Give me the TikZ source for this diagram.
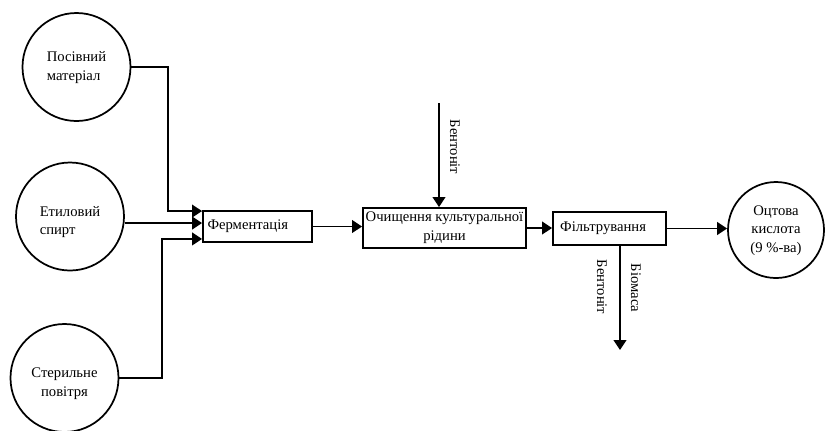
\documentclass[tikz,border=0pt]{standalone}
\usepackage{fontspec}
\setmainfont{Liberation Serif}
\usetikzlibrary{arrows.meta}

\begin{document}
\begin{tikzpicture}[
  x=0.75pt, y=-0.75pt,
  font=\fontsize{11}{14}\selectfont,
  src/.style={circle,draw,line width=1.3pt,minimum size=81pt,inner sep=0pt},
  stage/.style={draw,line width=1.4pt,inner sep=3pt,align=left},
  flow/.style={line width=1.4pt,-{Triangle[length=7.5pt,width=9.5pt]}},
  side/.style={rotate=-90},
]
  \useasboundingbox (0,0) rectangle (834,430);

  % raw materials
  \node[src] (seed) at (76.5,67) {\begin{tabular}{@{}l@{}}Посівний\\матеріал\end{tabular}};
  \node[src] (spirit) at (70,216.5) {\raisebox{-6.6pt}[0pt][0pt]{\begin{tabular}{@{}l@{}}Етиловий\\спирт\end{tabular}}};
  \node[src] (air) at (64.5,378) {\raisebox{-6.6pt}[0pt][0pt]{\begin{tabular}{@{}c@{}}Стерильне\\повітря\end{tabular}}};

  % process stages
  \node[stage,minimum width=81.75pt,minimum height=23.25pt,text width=75pt] (ferm) at (257.5,226.5) {Ферментація};
  \node[stage,minimum width=122.25pt,minimum height=30pt,align=center,inner sep=1pt] (clean) at (444.5,228)
    {Очищення культуральної\\рідини};
  \node[stage,minimum width=84.75pt,minimum height=24.75pt,text width=74pt] (filt) at (609.5,228.5) {Фільтрування};

  % product
  \node[src,minimum size=72pt] (acid) at (776,230) {\begin{tabular}{@{}c@{}}Оцтова\\кислота\\(9 \%-ва)\end{tabular}};

  % inputs to fermentation
  \coordinate (in1) at ([yshift=-0.75pt]ferm.north west);
  \coordinate (in2) at ([yshift=2.6pt]ferm.west);
  \coordinate (in3) at ([yshift=3pt]ferm.south west);
  \draw[flow] (seed.east) -- ++(37,0) |- (in1);
  \draw[flow] (spirit.east |- in2) -- (in2);
  \draw[flow] (air.east) -- ++(43,0) |- (in3);

  % main line
  \draw[flow] (ferm.east) -- (ferm.east -| clean.west);
  \draw[flow] (clean.east) -- (clean.east -| filt.west);
  \draw[flow] (filt.east) -- (filt.east -| acid.west);

  % bentonite in, waste out
  \coordinate (bent) at (439,103);
  \draw[flow] (bent) -- (bent |- clean.north);
  \node[side] (bentin) at (455,147) {Бентоніт};

  \coordinate (waste) at (620,350);
  \draw[flow] (filt.south -| waste) -- (waste);
  \node[side] (bentout) at (602,287) {Бентоніт};
  \node[side] (bio) at (636,288) {Біомаса};
\end{tikzpicture}
\end{document}
